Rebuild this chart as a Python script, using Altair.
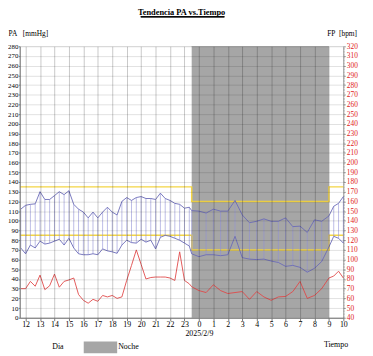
import altair as alt
import pandas as pd

F = "Liberation Serif"

# measurement times (day every 20 min, night every 30 min)
times = ["11:40", "12:00", "12:20", "12:40", "13:00", "13:20", "13:40", "14:00", "14:20", "14:40",
         "15:00", "15:20", "15:40", "16:00", "16:20", "16:40", "17:00", "17:20", "17:40", "18:00",
         "18:20", "18:40", "19:00", "19:20", "19:40", "20:00", "20:20", "20:40", "21:00", "21:20",
         "21:40", "22:00", "22:20", "22:40", "23:00", "23:20",
         "23:30", "00:00", "00:30", "01:00", "01:30", "02:00", "02:30", "03:00", "03:30", "04:00",
         "04:30", "05:00", "05:30", "06:00", "06:30", "07:00", "07:30", "08:00", "08:30", "09:00",
         "09:20", "09:40", "10:00"]
sys_vals = [112, 116, 117, 117.5, 130, 122, 122, 126, 130, 127, 131, 117, 112, 109, 103, 109, 103, 109,
            114, 109, 106, 120, 124, 121, 124, 125, 123, 123, 122, 128.5, 123, 121, 118, 117, 113, 114,
            110.5, 110, 108, 112, 110, 110, 121, 106, 98, 99.5, 102, 99.5, 99.5, 103, 94, 94.5, 88,
            101, 99.5, 105, 115, 118, 125]
dia_vals = [72, 66, 75, 72, 79, 76, 77, 79, 81, 75, 82, 72, 66, 65, 65, 66, 65, 71, 69, 68, 66.5, 75,
            80, 77.5, 77, 81, 78, 80, 71, 83, 85, 84, 82, 80, 77, 74,
            66, 63, 65, 65, 64, 65, 84, 62, 60.5, 60, 60.5, 58.5, 57, 53, 54, 52, 47, 51, 58, 73,
            84, 82, 77]
fp_vals = [70, 70, 77.5, 72.5, 84, 69, 73, 85, 71.5, 77.5, 79, 81, 64, 58, 55, 59, 57, 63, 61.5, 63,
           60, 61.5, 78.5, 94, 110, 95, 80, 81.5, 82, 82, 82, 81, 78.5, 108, 78.5, 75,
           72, 68, 66, 74, 68, 65, 66, 67, 59, 67, 61.5, 58, 61.5, 62, 67, 77.5, 60, 63, 70, 81,
           83, 88, 81]

# periods (day / night)
period_names = ["Dia", "Noche", "Dia"]
period_start = ["11:36", "23:30", "09:00"]
period_end = ["23:30", "09:00", "10:00"]

# limits per period
limit_start = ["11:36", "23:30", "09:00", "10:00"]
sys_limit = [135, 120, 135, 135]
dia_limit = [85, 70, 85, 85]

x_ticks = list(range(12, 35))
y_ticks = list(range(0, 290, 10))
fp_ticks = list(range(40, 330, 10))

NB = "\u00a0"


def to_h(s):
    hh, mm = map(int, s.split(":"))
    h = hh + mm / 60
    return h + 24 if h < 11 else h


df = pd.DataFrame({"t": times, "sys": sys_vals, "dia": dia_vals, "fp": fp_vals})
df["h"] = df["t"].map(to_h)

per = pd.DataFrame({"periodo": period_names,
                    "start": [to_h(s) for s in period_start],
                    "end": [to_h(s) for s in period_end]})
lim = pd.DataFrame({"h": [to_h(s) for s in limit_start] * 2,
                    "v": sys_limit + dia_limit,
                    "k": ["sys"] * 4 + ["dia"] * 4})

W = 329
xscale = alt.Scale(domain=[to_h("11:36"), to_h("10:00")], nice=False, zero=False)
xaxis = alt.Axis(values=x_ticks,
                 labelExpr="datum.value == 24 ? ['0', '2025/2/9'] : '' + (datum.value % 24)",
                 grid=True, gridColor="black", gridOpacity=0.22, tickSize=3, tickColor="#777",
                 domainColor="#777", labelFont=F, labelFontSize=8, labelPadding=0, labelColor="black",
                 labelLineHeight=9, labelOverlap=False, labelFlush=False,
                 title="Tiempo", titleFont=F, titleFontSize=8, titleFontWeight="normal",
                 titleX=W - 8, titleY=27, titleAlign="center", titleBaseline="middle", zindex=1)
yscale = alt.Scale(domain=[0, 280], nice=False, zero=False)
yaxis = alt.Axis(values=y_ticks, grid=True, gridColor="black", gridOpacity=0.12, tickSize=1.5,
                 tickColor="#777", domainColor="#777", labelFont=F, labelFontSize=7, labelPadding=0.5,
                 labelColor="black", title="PA" + NB * 3 + "[mmHg]", titleAngle=0, titleAlign="left",
                 titleBaseline="middle", titleX=-12, titleY=-13, titleFont=F, titleFontSize=7.5,
                 titleFontWeight="normal", zindex=1)

xenc = alt.X("h:Q", scale=xscale, axis=xaxis)

night = alt.Chart(per).mark_rect(opacity=1).encode(
    x=alt.X("start:Q", scale=xscale, axis=xaxis),
    x2="end:Q",
    color=alt.Color("periodo:N",
                    scale=alt.Scale(domain=["Dia", "Noche"], range=["white", "#a6a6a6"]),
                    legend=alt.Legend(title=None, orient="none", legendX=-2, legendY=289,
                                      direction="horizontal",
                                      symbolType="M-1,-0.35H1V0.35H-1Z", symbolSize=1156,
                                      symbolStrokeWidth=0, symbolOpacity=1, labelFont=F,
                                      labelFontSize=8, labelOffset=1, columnPadding=20,
                                      padding=0)),
)

rules = alt.Chart(df).mark_rule(color="#9090d6", strokeWidth=0.6).encode(
    x=xenc, y=alt.Y("sys:Q", scale=yscale, axis=yaxis), y2="dia:Q")
sys_line = alt.Chart(df).mark_line(color="#6a6ab8", strokeWidth=0.9).encode(
    x=xenc, y=alt.Y("sys:Q", scale=yscale, axis=yaxis))
dia_line = alt.Chart(df).mark_line(color="#6a6ab8", strokeWidth=0.9).encode(
    x=xenc, y=alt.Y("dia:Q", scale=yscale, axis=yaxis))
limits = alt.Chart(lim).mark_line(color="#f4d545", strokeWidth=1.5, interpolate="step-after").encode(
    x=xenc, y=alt.Y("v:Q", scale=yscale, axis=yaxis), detail="k:N")
underline = alt.Chart(per).mark_rule(color="black", strokeWidth=1, clip=False).encode(
    x=alt.value(123), x2=alt.value(208), y=alt.value(-30), y2=alt.value(-30))

left = alt.layer(night, limits, rules, sys_line, dia_line, underline)

raxis = alt.Axis(orient="right", values=fp_ticks, grid=False, tickSize=2, tickColor="#999",
                 domainColor="#999", domainDash=[2, 1], labelColor="#e02020", labelFont=F,
                 labelFontSize=7.5, labelPadding=1, title="FP" + NB * 2 + "[bpm]", titleAngle=0,
                 titleAlign="left", titleBaseline="middle", titleX=-17, titleY=-13, titleFont=F,
                 titleFontSize=7.5, titleFontWeight="normal")
hr_line = alt.Chart(df).mark_line(color="#e04848", strokeWidth=0.9).encode(
    x=xenc, y=alt.Y("fp:Q", scale=alt.Scale(domain=[40, 320], nice=False, zero=False), axis=raxis))

chart = alt.layer(left, hr_line).resolve_scale(y="independent").properties(
    width=W, height=276,
    padding={"left": 12, "top": 36, "right": 22, "bottom": 40},
    autosize=alt.AutoSizeParams(type="none"),
    title=alt.TitleParams("Tendencia PA vs.Tiempo", font=F, fontSize=8.5, fontWeight="bold",
                          anchor="middle", offset=13, dy=13, color="black"),
).configure_view(stroke="#999", strokeWidth=0.7)

chart.save("out.html", embed_options={"renderer": "svg", "actions": False})
